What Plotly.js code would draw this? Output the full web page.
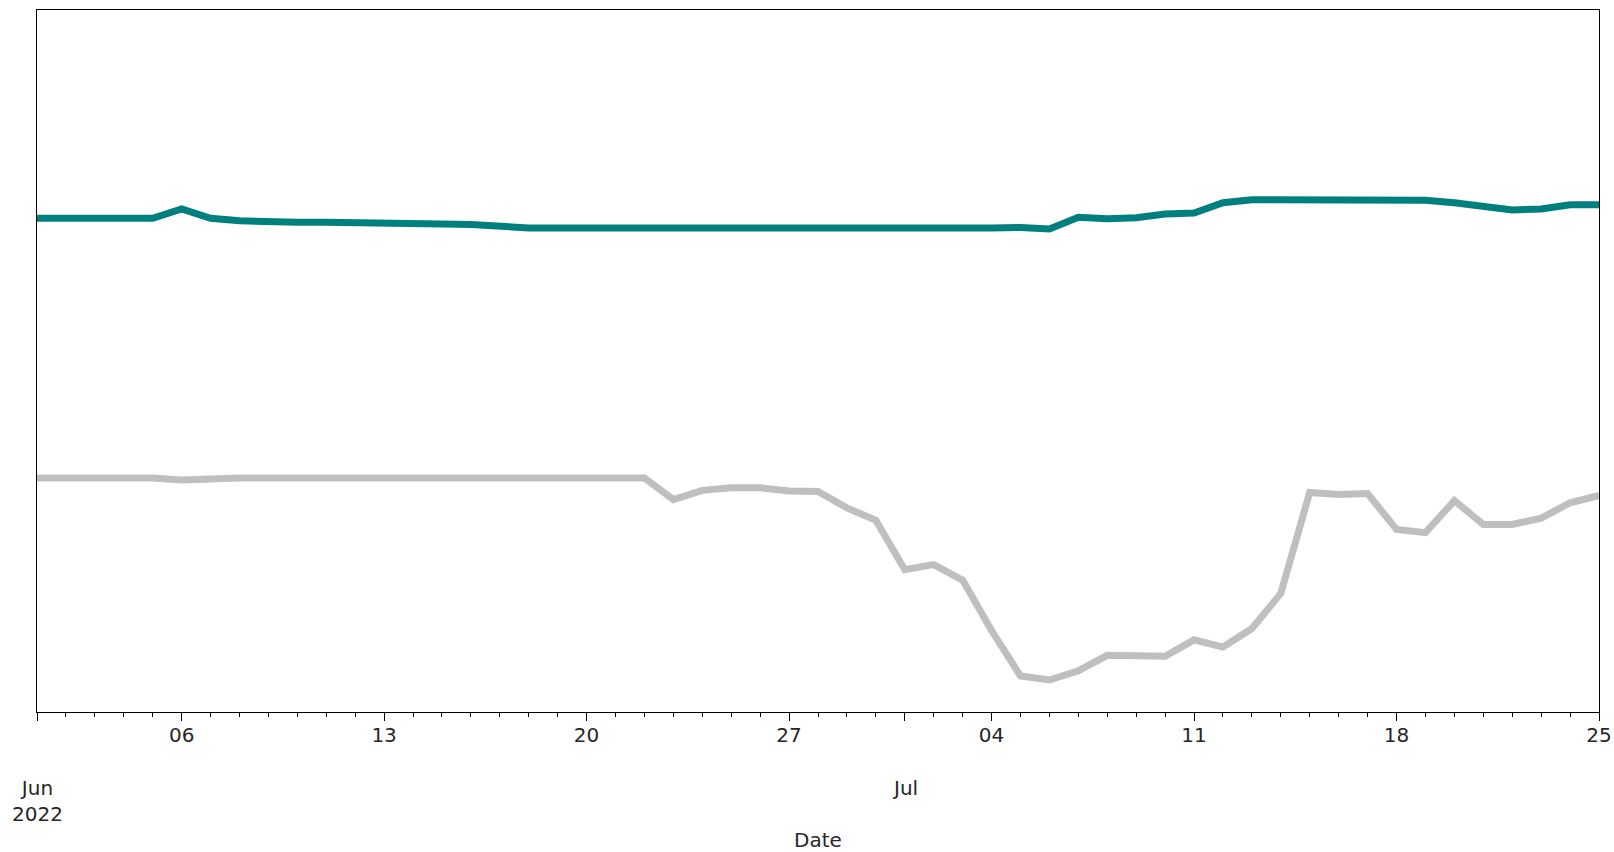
<!DOCTYPE html>
<html>
<head>
<meta charset="utf-8">
<script src="https://cdn.plot.ly/plotly-3.0.1.min.js"></script>
<style>html,body{margin:0;padding:0;background:#fff;}#chart{width:1614px;height:852px;}</style>
</head>
<body>
<div id="chart"></div>
<script>
// Daily dates, 1 Jun 2022 .. 25 Jul 2022
const startDate = '2022-06-01';
const nDays = 55;
// Values (arbitrary units, no y scale shown)
const tealSeries = [479, 479, 479, 479, 479, 488, 479, 476.5, 475, 475,
  475, 475, 475, 474, 473.5, 473, 470.5, 469.5, 469.5, 469.5,
  469.5, 468, 469.5, 469.5, 469.5, 469.5, 469.5, 469, 468.5, 469.5,
  469.5, 469.5, 469.5, 469.5, 470, 468.5, 480, 478.5, 479.5, 483,
  484, 494, 497, 497, 497, 497, 497, 497, 496.5, 494,
  491, 487, 488, 492, 492];
const graySeries = [227, 227, 227, 227, 227, 225, 226.5, 227, 227, 227,
  227, 227, 227, 227, 227, 227, 227, 227, 227, 227,
  227, 227, 206, 215, 217.5, 217.5, 214.5, 214, 198, 186,
  138, 143, 128, 79, 35, 31, 40, 55, 54.5, 54,
  70, 63, 81, 115, 213, 211, 212, 177, 174, 205,
  182, 182, 188, 203, 210];
const majorTickDates = ['2022-06-01','2022-06-06','2022-06-13','2022-06-20','2022-06-27','2022-07-01','2022-07-04','2022-07-11','2022-07-18','2022-07-25'];
const majorTickLabels = ['', '06', '13', '20', '27', '', '04', '11', '18', '25'];
const monthDates = ['2022-06-01', '2022-07-01'];
const monthLabels = ['Jun<br>2022', 'Jul'];

function buildDates(start, n) {
  const out = [];
  const d0 = new Date(start + 'T00:00:00Z');
  for (let i = 0; i < n; i++) {
    const d = new Date(d0.getTime() + i * 86400000);
    out.push(d.toISOString().slice(0, 10));
  }
  return out;
}
const dates = buildDates(startDate, nDays);

const font = {family: 'DejaVu Sans, sans-serif', size: 20, color: '#262626'};

const traces = [
  {x: dates, y: tealSeries, type: 'scatter', mode: 'lines', line: {color: '#007f7f', width: 7}, hoverinfo: 'skip'},
  {x: dates, y: graySeries, type: 'scatter', mode: 'lines', line: {color: '#bfbfbf', width: 7}, hoverinfo: 'skip'}
];

const annotations = monthDates.map((d, i) => ({
  x: d, xref: 'x', y: 0, yref: 'paper', yanchor: 'top', xanchor: 'center',
  yshift: -62, text: monthLabels[i], showarrow: false, font: font
}));
annotations.push({
  x: 0.5, xref: 'paper', y: 0, yref: 'paper', yanchor: 'top', xanchor: 'center',
  yshift: -114, text: 'Date', showarrow: false, font: font
});

const layout = {
  width: 1614, height: 852,
  margin: {l: 37, r: 15, t: 10, b: 140},
  paper_bgcolor: '#ffffff', plot_bgcolor: '#ffffff',
  showlegend: false,
  font: font,
  xaxis: {
    type: 'date',
    range: ['2022-06-01', '2022-07-25'],
    tickmode: 'array', tickvals: majorTickDates, ticktext: majorTickLabels,
    ticks: 'outside', ticklen: 8, tickwidth: 1, tickcolor: '#000',
    ticklabelstandoff: -3,
    minor: {dtick: 86400000, ticks: 'outside', ticklen: 4, tickwidth: 1, tickcolor: '#000', showgrid: false},
    showgrid: false, zeroline: false,
    showline: true, linecolor: '#000', linewidth: 1, mirror: true,
    tickfont: font
  },
  yaxis: {
    range: [0, 681],
    showticklabels: false, ticks: '',
    showgrid: false, zeroline: false,
    showline: true, linecolor: '#000', linewidth: 1, mirror: true
  },
  annotations: annotations
};

Plotly.newPlot('chart', traces, layout, {staticPlot: true, displayModeBar: false});
</script>
</body>
</html>
